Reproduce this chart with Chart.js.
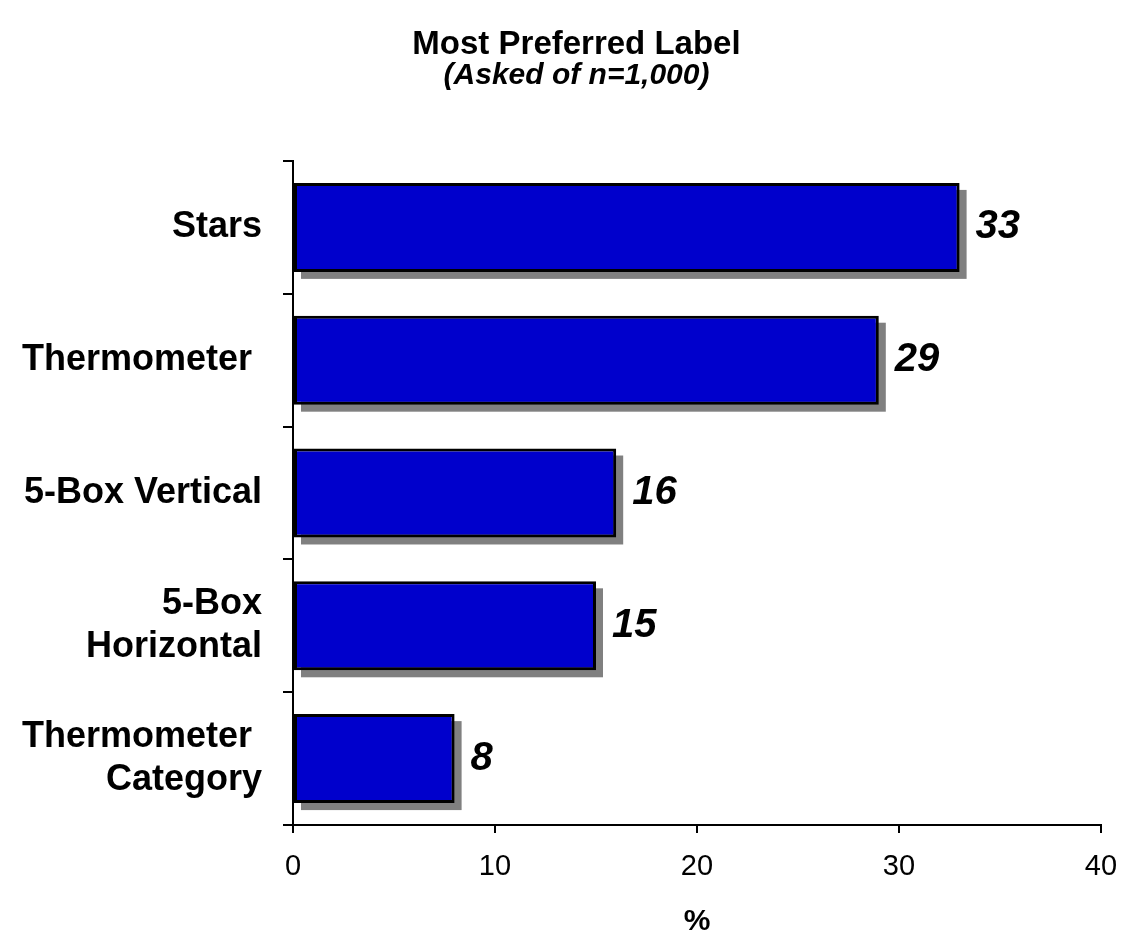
<!DOCTYPE html>
<html>
<head>
<meta charset="utf-8">
<script src="https://cdn.jsdelivr.net/npm/chart.js@4/dist/chart.umd.min.js"></script>
<style>
  html, body { margin: 0; padding: 0; background: #fff; }
  #wrap { width: 1123px; height: 937px; }
</style>
</head>
<body>
<div id="wrap"><canvas id="prefChart" width="1123" height="937"></canvas></div>
<script>
// Data
const categories = ['Stars', 'Thermometer ', '5-Box Vertical', ['5-Box', 'Horizontal'], ['Thermometer ', 'Category']];
const preferred = [33, 29, 16, 15, 8];
const xTicks = [0, 10, 20, 30, 40];

const FONT = "'Liberation Sans', Arial, Helvetica, sans-serif";

// Grey drop shadow behind each bar, taken from the bar elements themselves
const barShadow = {
    id: 'barShadow',
    beforeDatasetsDraw(chart) {
        const ctx = chart.ctx;
        const meta = chart.getDatasetMeta(0);
        ctx.save();
        ctx.fillStyle = '#808080';
        meta.data.forEach(bar => {
            const p = bar.getProps(['x', 'y', 'base', 'height'], true);
            ctx.fillRect(p.base + 7, p.y - p.height / 2 + 7, p.x - p.base, p.height);
        });
        ctx.restore();
    }
};

// Bold italic value labels to the right of each bar
const valueLabels = {
    id: 'valueLabels',
    afterDatasetsDraw(chart) {
        const ctx = chart.ctx;
        const meta = chart.getDatasetMeta(0);
        ctx.save();
        ctx.font = 'italic bold 40px ' + FONT;
        ctx.fillStyle = '#000';
        ctx.textAlign = 'left';
        ctx.textBaseline = 'middle';
        meta.data.forEach((bar, i) => {
            ctx.fillText(String(preferred[i]), bar.x + 16, bar.y);
        });
        ctx.restore();
    }
};

// Title block sits a little right of the canvas centre in the original
const shiftTitles = {
    id: 'shiftTitles',
    afterLayout(chart) {
        chart.boxes.forEach(box => {
            if (box.position === 'top' && !box.axis) {
                box.left += 15;
                box.right += 15;
            }
        });
    }
};

const ctx = document.getElementById('prefChart').getContext('2d');
new Chart(ctx, {
    type: 'bar',
    data: {
        labels: categories,
        datasets: [{
            data: preferred,
            backgroundColor: '#0000CC',
            borderColor: '#000',
            borderWidth: 3,
            borderSkipped: false,
            categoryPercentage: 1,
            barPercentage: 0.67
        }]
    },
    options: {
        indexAxis: 'y',
        responsive: false,
        animation: false,
        layout: { padding: { top: 28, left: 0, right: 0, bottom: 0 } },
        plugins: {
            legend: { display: false },
            tooltip: { enabled: false },
            title: {
                display: true,
                text: 'Most Preferred Label',
                color: '#000',
                font: { family: FONT, size: 33, weight: 'bold', lineHeight: 1 },
                padding: { top: 0, bottom: 0 }
            },
            subtitle: {
                display: true,
                text: '(Asked of n=1,000)',
                color: '#000',
                font: { family: FONT, size: 30, weight: 'bold', style: 'italic', lineHeight: 1 },
                padding: { top: 0, bottom: 70 }
            }
        },
        scales: {
            x: {
                type: 'linear',
                min: 0,
                max: 40,
                afterBuildTicks: scale => { scale.ticks = xTicks.map(v => ({ value: v })); },
                afterFit: scale => { scale.height = 112; scale.paddingRight = 22; },
                grid: { drawOnChartArea: false, tickLength: 8, color: '#000', lineWidth: 2 },
                border: { display: true, color: '#000', width: 2 },
                ticks: { color: '#000', padding: 17, font: { family: FONT, size: 29 } },
                title: {
                    display: true,
                    text: '%',
                    color: '#000',
                    font: { family: FONT, size: 30, weight: 'bold', lineHeight: 1 },
                    padding: { top: 0, bottom: 0 }
                }
            },
            y: {
                afterFit: scale => { scale.width = 293; },
                grid: { drawOnChartArea: false, offset: true, tickLength: 10, color: '#000', lineWidth: 2 },
                border: { display: true, color: '#000', width: 2 },
                ticks: { color: '#000', padding: 21, font: { family: FONT, size: 36, weight: 'bold', lineHeight: 1.2 } }
            }
        }
    },
    plugins: [barShadow, valueLabels, shiftTitles]
});
</script>
</body>
</html>
